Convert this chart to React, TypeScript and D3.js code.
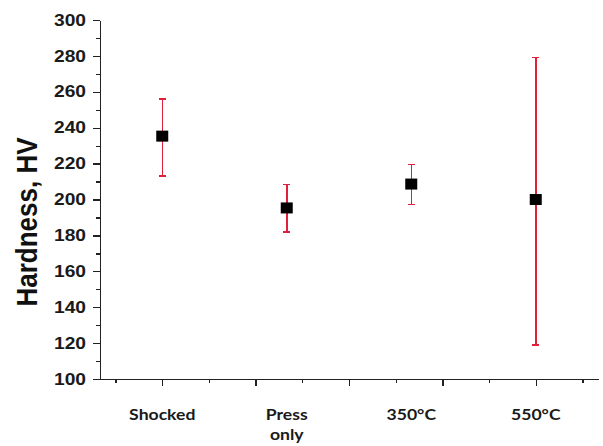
import React, { useEffect, useRef } from "react";
import * as d3 from "d3";

// chart values
const categories = ["Shocked", "Press only", "350°C", "550°C"];
const hardness = [235.3, 195.3, 208.6, 200];
const errLow = [213, 182, 197.2, 119];
const errHigh = [256, 208.4, 219.6, 279.2];

const yTicks = [100, 120, 140, 160, 180, 200, 220, 240, 260, 280, 300];
const yMinorTicks = [110, 130, 150, 170, 190, 210, 230, 250, 270, 290];
const xMajorTicks = [1, 1.75, 2.5, 3.25, 4];
const xMinorTicks = [0.625, 1.375, 2.125, 2.875, 3.625, 4.375];

function App() {
  const chartRef = useRef<SVGSVGElement>(null);

  function drawChart() {
    var width = 603,
      height = 446;
    var margin = { left: 100, right: 5, top: 20, bottom: 67 };

    var svg = d3.select(chartRef.current);
    svg.selectAll("*").remove();

    var x = d3
      .scaleLinear()
      .domain([0.5, 4.5])
      .range([margin.left, width - margin.right]);

    var y = d3
      .scaleLinear()
      .domain([100, 300])
      .range([height - margin.bottom, margin.top]);

    var axisColor = "#222";
    var stretch = 1.2; // the source picture is a bit wider than tall

    // minor ticks first
    var yMinor = svg
      .append("g")
      .attr("transform", "translate(" + margin.left + ",0)")
      .call(
        d3
          .axisLeft(y)
          .tickValues(yMinorTicks)
          .tickSize(4)
          .tickSizeOuter(0)
          .tickFormat(() => "")
      );
    yMinor.select(".domain").remove();

    var xMinor = svg
      .append("g")
      .attr("transform", "translate(0," + (height - margin.bottom) + ")")
      .call(
        d3
          .axisBottom(x)
          .tickValues(xMinorTicks)
          .tickSize(4)
          .tickSizeOuter(0)
          .tickFormat(() => "")
      );
    xMinor.select(".domain").remove();

    var yAxis = svg
      .append("g")
      .attr("transform", "translate(" + margin.left + ",0)")
      .call(
        d3
          .axisLeft(y)
          .tickValues(yTicks)
          .tickSize(7)
          .tickSizeOuter(0)
          .tickPadding(7)
          .tickFormat(d3.format("d"))
      );

    yAxis
      .selectAll("text")
      .attr("x", -14 / stretch)
      .attr("transform", "scale(" + stretch + ",1)")
      .style("font-family", "'Liberation Sans', Arial, sans-serif")
      .style("font-weight", "bold")
      .style("font-size", "16px")
      .style("fill", "#1a1a1a");

    svg
      .append("g")
      .attr("transform", "translate(0," + (height - margin.bottom) + ")")
      .call(
        d3
          .axisBottom(x)
          .tickValues(xMajorTicks)
          .tickSize(7)
          .tickSizeOuter(0)
          .tickFormat(() => "")
      );

    svg
      .selectAll(".domain, .tick line")
      .attr("stroke", axisColor)
      .attr("stroke-width", 1.3)
      .attr("shape-rendering", "crispEdges");

    // category labels under the axis
    var labels = svg
      .append("g")
      .selectAll("text")
      .data(categories)
      .enter()
      .append("text")
      .attr("text-anchor", "middle")
      .attr("transform", function (d, i) {
        return "translate(" + x(i + 1) + "," + 420 + ") scale(1.1,1)";
      })
      .style("font-family", "Lato, 'Open Sans', sans-serif")
      .style("font-weight", "bold")
      .style("font-size", "16px")
      .style("fill", "#1a1a1a");

    labels
      .selectAll("tspan")
      .data(function (d) {
        return d.split(" ");
      })
      .enter()
      .append("tspan")
      .attr("x", 0)
      .attr("dy", function (d, i) {
        return i === 0 ? 0 : 20;
      })
      .text(function (d) {
        return d;
      });

    // y axis title
    svg
      .append("text")
      .attr("transform", "translate(37,222) scale(1.15,1) rotate(-90)")
      .attr("text-anchor", "middle")
      .style("font-family", "'Liberation Sans', Arial, sans-serif")
      .style("font-weight", "bold")
      .style("font-size", "26px")
      .style("fill", "#111")
      .text("Hardness, HV");

    // error bars
    var errColor = "#e0203a";
    var bars = svg
      .append("g")
      .selectAll("g")
      .data(categories)
      .enter()
      .append("g")
      .attr("stroke", errColor)
      .attr("stroke-width", 1.5)
      .attr("shape-rendering", "crispEdges");

    bars
      .append("line")
      .attr("x1", (d, i) => x(i + 1))
      .attr("x2", (d, i) => x(i + 1))
      .attr("y1", (d, i) => y(errLow[i]))
      .attr("y2", (d, i) => y(errHigh[i]));

    bars
      .append("line")
      .attr("x1", (d, i) => x(i + 1) - 3.5)
      .attr("x2", (d, i) => x(i + 1) + 3.5)
      .attr("y1", (d, i) => y(errLow[i]))
      .attr("y2", (d, i) => y(errLow[i]));

    bars
      .append("line")
      .attr("x1", (d, i) => x(i + 1) - 3.5)
      .attr("x2", (d, i) => x(i + 1) + 3.5)
      .attr("y1", (d, i) => y(errHigh[i]))
      .attr("y2", (d, i) => y(errHigh[i]));

    // square markers
    svg
      .append("g")
      .selectAll("rect")
      .data(hardness)
      .enter()
      .append("rect")
      .attr("x", (d, i) => x(i + 1) - 6)
      .attr("y", (d) => y(d) - 5.5)
      .attr("width", 12)
      .attr("height", 11)
      .attr("fill", "#000");
  }

  useEffect(() => {
    drawChart();
  }, []);

  return (
    <svg
      ref={chartRef}
      width={603}
      height={446}
      style={{ position: "absolute", left: 0, top: 0, background: "#fff" }}
    ></svg>
  );
}

export default App;
